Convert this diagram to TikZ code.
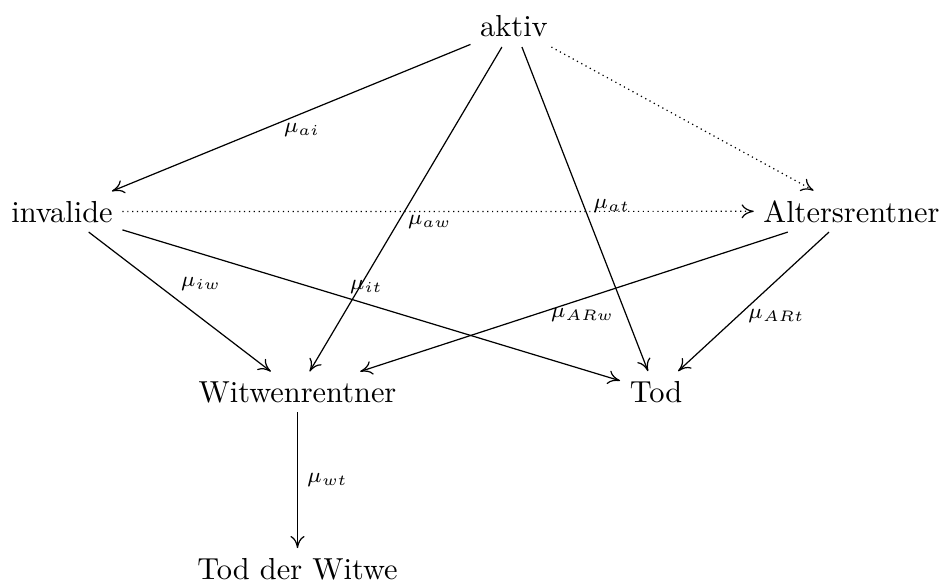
\documentclass[tikz,border=0pt]{standalone}
\usetikzlibrary{arrows.meta}
\begin{document}
\begin{tikzpicture}[x=0.329pt,y=-0.329pt,
  state/.style={inner sep=3pt, anchor=base},
  lab/.style={font=\scriptsize, inner sep=3pt},
  trans/.style={line width=0.4pt, -{To[length=4pt,width=4.6pt]}},
  opt/.style={trans, dash pattern=on 0.4pt off 1.2pt}]
\useasboundingbox (0,0) rectangle (944,586);

% states
\node[state] (a)  at (514,37)  {aktiv};
\node[state] (i)  at (62,222)  {invalide};
\node[state] (ar) at (851.5,222) {Altersrentner};
\node[state] (w)  at (297.5,402) {Witwenrentner};
\node[state] (t)  at (656,402) {Tod};
\node[state] (tw) at (297.5,579) {Tod der Witwe};

% transitions
\draw[trans] (a) -- node[lab,pos=.47,below] {$\mu_{ai}$} (i);
\draw[trans] (a) -- node[lab,pos=.54,right] {$\mu_{aw}$} (w);
\draw[trans] (a) -- node[lab,pos=.49,right] {$\mu_{at}$} (t);
\draw[opt]   (a) -- (ar);
\draw[opt]   (i) -- (ar);
\draw[trans] (i) -- node[lab,pos=.47,above right,inner sep=2pt] {$\mu_{iw}$} (w);
\draw[trans] (i) -- node[lab,pos=.49,above] {$\mu_{it}$} (t);
\draw[trans] (ar) -- node[lab,pos=.48,below] {$\mu_{ARw}$} (w);
\draw[trans] (ar) -- node[lab,pos=.6,right] {$\mu_{ARt}$} (t);
\draw[trans] (w) -- node[lab,pos=.5,right] {$\mu_{wt}$} (tw);
\end{tikzpicture}
\end{document}
